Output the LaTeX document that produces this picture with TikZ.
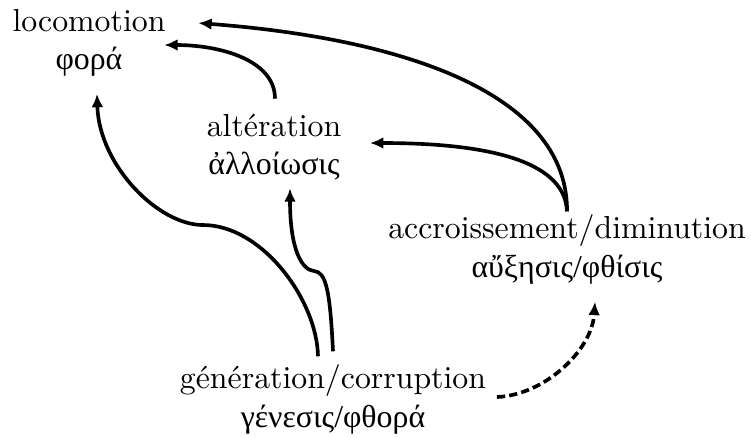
\documentclass[tikz,border=0pt]{standalone}
\usepackage{fontspec}
\newfontfamily\grfont{Liberation Serif}
\usetikzlibrary{arrows.meta}
\begin{document}
\begin{tikzpicture}[x=0.3143pt,y=-0.3143pt,
  concept/.style={align=center,inner sep=1pt,font=\fontsize{10}{12}\selectfont},
  conn/.style={line width=1.15pt,-{Latex[length=4.2pt,width=3.7pt]}},
  dashconn/.style={conn,dash pattern=on 2.6pt off 1.3pt}]
\useasboundingbox (0,0) rectangle (751,437);
\node[concept] (loco) at (89,42.5) {locomotion\\{\grfont φορά}};
\node[concept] (alt) at (274,147.5) {altération\\{\grfont ἀλλοίωσις}};
\node[concept] (acc) at (567,249.5) {accroissement/diminution\\{\grfont αὔξησις/φθίσις}};
\node[concept] (gen) at (333,399.5) {génération/corruption\\{\grfont γένεσις/φθορά}};
\draw[conn] (acc.north) .. controls (568,100) and (420,40) .. ([shift={(29,-19.5)}]loco.east);
\draw[conn] (acc.north) .. controls (565,165) and (500,143) .. ([shift={(25,-4.5)}]alt.east);
\draw[conn] ([shift={(1,-12)}]alt.north) .. controls (275,60) and (220,45) .. ([shift={(-5,2.5)}]loco.east);
\draw[conn] ([shift={(-15,-5)}]gen.north) .. controls (317,300) and (262,225) .. (203,225) .. controls (158,225) and (99,165) .. ([shift={(8,14)}]loco.south);
\draw[conn] ([shift={(0,-10)}]gen.north) .. controls (330,290) and (326,272) .. (314,271) .. controls (302,270) and (290,250) .. ([shift={(16,4)}]alt.south);
\draw[dashconn] ([shift={(7,-2.5)}]gen.east) .. controls (545,395) and (592,350) .. ([shift={(28,14)}]acc.south);
\end{tikzpicture}
\end{document}
